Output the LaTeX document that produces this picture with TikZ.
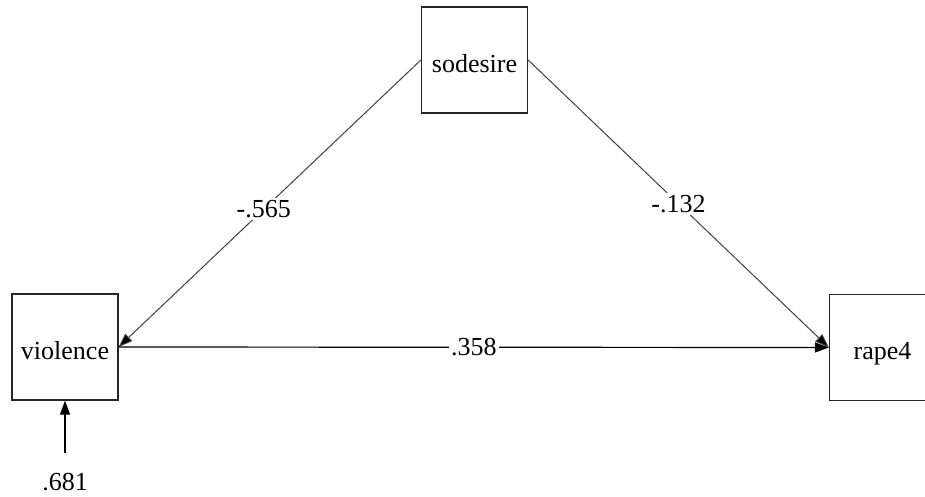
\documentclass[tikz,border=0pt]{standalone}
\usepackage{fontspec}
\setmainfont{Liberation Serif}
\usetikzlibrary{arrows.meta}
\tikzset{
  var/.style = {rectangle, draw=black!85, line width=1.3pt, minimum width=106pt, minimum height=106pt, inner sep=0pt, text height=24pt, text depth=0pt},
  path/.style = {draw=black!75, line width=1pt, -{Triangle[length=14pt,width=10pt,fill=black]}},
  coef/.style = {fill=white, inner sep=2pt},
}

\begin{document}
\begin{tikzpicture}[x=1pt,y=-1pt,font=\fontsize{26}{30}\selectfont]
\useasboundingbox (0,0) rectangle (925,496);
\clip (0,0) rectangle (925,496);
\node[var] (sodesire) at (474.5,60) {sodesire};
\node[var] (violence) at (65,347) {violence};
\node[var] (rape) at (882.5,347.5) {rape4};
\coordinate (err) at (65,453);
\node (errval) at (65,482) {.681};
\draw[path] (sodesire.west) -- (violence.east) node[coef,pos=.52] {-.565};
\draw[path] (sodesire.east) -- (rape.west) node[coef,pos=.5] {-.132};
\draw[path,draw=black,line width=1.2pt] (violence.east) -- (rape.west) node[coef,pos=.5] {.358};
\draw[path,draw=black,line width=1.2pt] (err) -- (violence.south);
\end{tikzpicture}
\end{document}
